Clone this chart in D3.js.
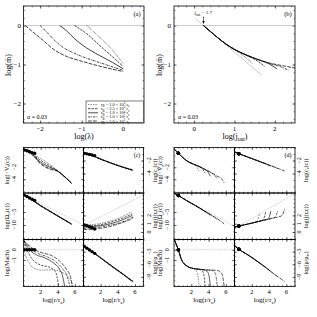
<!DOCTYPE html>
<html><head><meta charset="utf-8">
<script src="https://cdn.jsdelivr.net/npm/d3@7"></script>
<style>
body{margin:0;background:#fff}
svg{display:block;font-family:"Liberation Serif","DejaVu Serif",serif}
</style>
</head><body><div id="chart"></div>
<script>
// ---------- data ----------
var rbLabels = [["1.0","3"],["2.5","3"],["1.0","4"],["1.0","5"],["5.0","5"]];

// (a) log(lambda) vs log(m), one curve per r_B
var aCurves = [
  [[-0.88,0],[-0.57,-0.3],[-0.25,-0.64],[0,-0.98]],
  [[-1.17,0],[-0.88,-0.21],[-0.57,-0.51],[-0.25,-0.81],[0,-1.05]],
  [[-1.53,0],[-1.37,-0.13],[-1.17,-0.34],[-0.97,-0.51],[-0.57,-0.77],[-0.25,-0.95],[0,-1.11]],
  [[-2.0,0],[-1.84,-0.17],[-1.65,-0.38],[-1.45,-0.56],[-1.24,-0.68],[-1.05,-0.77],[-0.57,-0.95],[0,-1.15]],
  [[-2.36,0],[-2.17,-0.17],[-1.93,-0.38],[-1.69,-0.6],[-1.37,-0.79],[-1.05,-0.9],[-0.5,-1.06],[0,-1.18]]
];
// (b) log(j_out) vs log(m)
var bCurves = [
  [[0.23,0],[0.5,-0.24],[0.78,-0.47],[1.03,-0.64],[1.25,-0.8],[1.45,-0.98]],
  [[0.23,0],[0.5,-0.24],[0.78,-0.47],[1.03,-0.63],[1.28,-0.76],[1.55,-0.9],[1.75,-1.05]],
  [[0.23,0],[0.5,-0.24],[0.78,-0.47],[1.03,-0.63],[1.28,-0.75],[1.53,-0.86],[1.85,-0.98],[2.05,-1.11]],
  [[0.23,0],[0.5,-0.24],[0.78,-0.47],[1.03,-0.63],[1.28,-0.75],[1.53,-0.85],[1.86,-0.97],[2.15,-1.06],[2.35,-1.15]],
  [[0.23,0],[0.5,-0.24],[0.78,-0.47],[1.03,-0.63],[1.28,-0.75],[1.53,-0.85],[1.86,-0.96],[2.19,-1.03],[2.5,-1.09]]
];
var bGrey = [[0.04,0.17],[1.68,-1.28]];
var jOut = 1.7;

// (c) profiles vs log(r/r_s); second point of each curve is the sonic point
var cVr = [
  [[0,1.0],[0.1,0.88],[1,0.2],[2,-0.55],[3,-1.45],[3.9,-2.5],[4.8,-3.55],[5.62,-4.65]],
  [[0,1.0],[0.4,0.75],[1.1,0.0],[2,-0.85],[3,-1.7],[3.9,-2.52],[4.8,-3.56],[5.62,-4.66]],
  [[0,1.0],[0.7,0.6],[1.2,-0.2],[2,-1.15],[3,-1.95],[3.9,-2.55],[4.8,-3.58],[5.6,-4.67]],
  [[0,1.0],[1.0,0.45],[1.4,-0.45],[2.1,-1.45],[3,-2.15],[3.9,-2.58],[4.8,-3.6],[5.6,-4.68]],
  [[0,1.0],[1.3,0.33],[1.6,-0.75],[2.3,-1.75],[3.1,-2.35],[3.9,-2.62],[4.8,-3.62],[5.6,-4.7]]
];
var cCs = [
  [[0,-0.85],[0.1,-0.9],[1.5,-1.5],[2.5,-2.0],[3.5,-2.5],[4.5,-2.95],[5.8,-3.45]],
  [[0,-0.8],[0.4,-0.98],[1.5,-1.5],[2.5,-2.02],[3.5,-2.52],[4.5,-2.97],[5.8,-3.47]],
  [[0,-0.8],[0.7,-1.06],[1.5,-1.52],[2.5,-2.04],[3.5,-2.53],[4.5,-2.98],[5.75,-3.48]],
  [[0,-0.8],[1.0,-1.15],[1.6,-1.6],[2.5,-2.06],[3.5,-2.55],[4.5,-3.0],[5.7,-3.5]],
  [[0,-0.8],[1.3,-1.25],[1.8,-1.7],[2.6,-2.1],[3.5,-2.56],[4.5,-3.01],[5.7,-3.5]]
];
var cOm = [
  [[0,1.7],[0.1,1.5],[1.5,-1.4],[2.5,-3.4],[3.5,-5.4],[4.5,-7.4],[5.62,-9.6]],
  [[0,1.7],[0.4,0.95],[1.5,-1.5],[2.5,-3.5],[3.5,-5.5],[4.5,-7.45],[5.62,-9.65]],
  [[0,1.7],[0.7,0.4],[1.5,-1.6],[2.5,-3.6],[3.5,-5.55],[4.5,-7.5],[5.6,-9.7]],
  [[0,1.7],[1.0,-0.1],[1.6,-1.8],[2.5,-3.7],[3.5,-5.6],[4.5,-7.55],[5.6,-9.7]],
  [[0,1.7],[1.3,-0.6],[1.8,-2.1],[2.6,-3.85],[3.5,-5.7],[4.5,-7.6],[5.6,-9.75]]
];
var cJ = [
  [[0,0.82],[0.1,0.84],[1.5,0.95],[2.5,1.15],[3.5,1.45],[4.5,1.85],[5.6,2.4]],
  [[0,0.72],[0.4,0.75],[1.5,0.8],[2.5,1.0],[3.5,1.3],[4.5,1.65],[5.7,2.2]],
  [[0,0.6],[0.7,0.64],[1.5,0.7],[2.5,0.85],[3.5,1.1],[4.5,1.45],[5.7,2.0]],
  [[0,0.45],[1.0,0.5],[2,0.6],[3,0.8],[4,1.05],[5,1.4],[5.8,1.85]],
  [[0,0.3],[1.3,0.36],[2,0.45],[3,0.65],[4,0.95],[5,1.3],[5.8,1.7]]
];
var cMach = [
  [[0.02,0.9],[0.1,0],[0.6,-1.2],[1.2,-1.8],[2.2,-2.0],[3.2,-1.95],[4.2,-2.1],[5.0,-2.5],[5.5,-3.0],[5.8,-3.6]],
  [[0.02,0.9],[0.4,0],[1.0,-0.9],[2.0,-1.5],[3.0,-1.7],[3.6,-2.0],[3.9,-2.6],[4.1,-3.6]],
  [[0.02,0.9],[0.7,0],[1.5,-0.5],[2.5,-0.8],[3.5,-1.3],[4.2,-1.9],[4.6,-2.7],[4.8,-3.6]],
  [[0.02,0.9],[1.0,0],[1.8,-0.4],[2.8,-0.7],[3.8,-1.2],[4.6,-1.9],[5.1,-2.6],[5.4,-3.6]],
  [[0.02,0.9],[1.3,0],[2.2,-0.3],[3.2,-0.55],[4.2,-1.1],[5.0,-1.9],[5.5,-2.7],[5.7,-3.6]]
];
var cRho = [
  [[0,-1.6],[0.1,-1.75],[1.5,-3.6],[2.5,-5.1],[3.5,-6.6],[4.5,-8.1],[5.8,-10.1]],
  [[0,-1.6],[0.4,-2.2],[1.5,-3.7],[2.5,-5.2],[3.5,-6.7],[4.5,-8.15],[5.8,-10.1]],
  [[0,-1.6],[0.7,-2.6],[1.5,-3.75],[2.5,-5.25],[3.5,-6.75],[4.5,-8.2],[5.75,-10.1]],
  [[0,-1.6],[1.0,-3.0],[1.6,-3.9],[2.5,-5.3],[3.5,-6.8],[4.5,-8.25],[5.7,-10.1]],
  [[0,-1.6],[1.3,-3.4],[1.8,-4.2],[2.6,-5.45],[3.5,-6.85],[4.5,-8.3],[5.7,-10.15]]
];
var cOmKep = [[0.1,1.5],[7,-10.0]];
var cJKep = [[0.1,0.84],[7,4.46]];
var cMach1 = [[0.1,0],[7,0]];

// (d) same profiles, one curve per r_B
var dVr = [
  [[0.05,1.0],[0.5,0.35],[1,-0.35],[1.64,-1.07],[2.2,-1.45],[2.6,-1.85],[2.9,-2.7]],
  [[0.05,1.0],[0.5,0.35],[1,-0.35],[1.64,-1.07],[2.2,-1.45],[2.8,-1.8],[3.3,-2.3],[3.6,-3.0]],
  [[0.05,1.0],[0.5,0.35],[1,-0.35],[1.64,-1.07],[2.2,-1.45],[2.8,-1.8],[3.5,-2.3],[3.9,-2.75],[4.2,-3.5]],
  [[0.05,1.0],[0.5,0.35],[1,-0.35],[1.64,-1.07],[2.2,-1.45],[2.8,-1.8],[3.5,-2.3],[4.3,-2.9],[4.7,-3.3],[5.0,-3.9]],
  [[0.05,1.0],[0.5,0.35],[1,-0.35],[1.64,-1.07],[2.2,-1.45],[2.8,-1.8],[3.5,-2.3],[4.3,-2.9],[5,-3.5],[5.5,-3.9],[5.8,-4.6]]
];
var dCs = [
  [[0.05,-0.7],[0.5,-0.95],[1.5,-1.45],[2.5,-1.95],[2.9,-2.2]],
  [[0.05,-0.7],[0.5,-0.95],[1.5,-1.45],[2.5,-1.95],[3.6,-2.5]],
  [[0.05,-0.7],[0.5,-0.95],[1.5,-1.45],[2.5,-1.95],[3.5,-2.45],[4.2,-2.85]],
  [[0.05,-0.7],[0.5,-0.95],[1.5,-1.45],[2.5,-1.95],[3.5,-2.45],[4.5,-2.95],[5.0,-3.25]],
  [[0.05,-0.7],[0.5,-0.95],[1.5,-1.45],[2.5,-1.95],[3.5,-2.45],[4.5,-2.95],[5.8,-3.6]]
];
var dOm = [
  [[0.05,2.2],[0.5,1.35],[1.5,-0.7],[2.5,-2.6],[2.9,-3.6]],
  [[0.05,2.2],[0.5,1.35],[1.5,-0.7],[2.5,-2.6],[3.3,-4.2],[3.6,-5.1]],
  [[0.05,2.2],[0.5,1.35],[1.5,-0.7],[2.5,-2.6],[3.5,-4.6],[3.9,-5.5],[4.2,-6.3]],
  [[0.05,2.2],[0.5,1.35],[1.5,-0.7],[2.5,-2.6],[3.5,-4.6],[4.5,-6.6],[5.0,-7.9]],
  [[0.05,2.2],[0.5,1.35],[1.5,-0.7],[2.5,-2.6],[3.5,-4.6],[4.5,-6.6],[5.4,-8.5],[5.8,-9.6]]
];
var dJ = [
  [[0.05,0.6],[0.5,0.72],[1.5,0.95],[2.5,1.2],[2.75,1.6],[2.9,2.2]],
  [[0.05,0.6],[0.5,0.72],[1.5,0.95],[2.5,1.2],[3.2,1.38],[3.45,1.8],[3.6,2.4]],
  [[0.05,0.6],[0.5,0.72],[1.5,0.95],[2.5,1.2],[3.5,1.45],[3.8,1.52],[4.05,1.9],[4.2,2.5]],
  [[0.05,0.6],[0.5,0.72],[1.5,0.95],[2.5,1.2],[3.5,1.45],[4.6,1.72],[4.85,2.1],[5.0,2.6]],
  [[0.05,0.6],[0.5,0.72],[1.5,0.95],[2.5,1.2],[3.5,1.45],[4.5,1.7],[5.4,1.92],[5.65,2.3],[5.8,2.8]]
];
var dMach = [
  [[0.05,0.95],[0.5,0],[0.88,-1.0],[1.64,-1.67],[2.3,-1.85],[2.6,-2.1],[2.8,-2.7],[2.9,-3.6]],
  [[0.05,0.95],[0.5,0],[0.88,-1.0],[1.64,-1.67],[2.3,-1.85],[2.8,-1.9],[3.3,-2.1],[3.5,-2.7],[3.6,-3.6]],
  [[0.05,0.95],[0.5,0],[0.88,-1.0],[1.64,-1.67],[2.3,-1.85],[2.8,-1.9],[3.5,-1.97],[3.9,-2.2],[4.1,-2.8],[4.2,-3.6]],
  [[0.05,0.95],[0.5,0],[0.88,-1.0],[1.64,-1.67],[2.3,-1.85],[2.8,-1.9],[3.5,-1.97],[4.3,-2.0],[4.7,-2.2],[4.9,-2.8],[5.0,-3.6]],
  [[0.05,0.95],[0.5,0],[0.88,-1.0],[1.64,-1.67],[2.3,-1.85],[2.8,-1.9],[3.5,-1.97],[4.3,-2.0],[5.0,-2.02],[5.5,-2.3],[5.7,-2.9],[5.8,-3.6]]
];
var dRho = [
  [[0.05,-1.6],[0.5,-2.43],[1.5,-3.7],[2.5,-5.1],[2.9,-5.7]],
  [[0.05,-1.6],[0.5,-2.43],[1.5,-3.7],[2.5,-5.1],[3.6,-6.75]],
  [[0.05,-1.6],[0.5,-2.43],[1.5,-3.7],[2.5,-5.1],[3.5,-6.6],[4.2,-7.7]],
  [[0.05,-1.6],[0.5,-2.43],[1.5,-3.7],[2.5,-5.1],[3.5,-6.6],[4.5,-8.2],[5.0,-8.95]],
  [[0.05,-1.6],[0.5,-2.43],[1.5,-3.7],[2.5,-5.1],[3.5,-6.6],[4.5,-8.2],[5.8,-10.1]]
];
var dOmKep = [[0.5,1.35],[7,-10.6]];
var dJKep = [[0.5,0.72],[7,4.66]];
var dMach1 = [[0.5,0],[7,0]];

var mTicks = [-2,-1,0], lamTicks = [-2,-1,0], jTicks = [0,1,2];
var rTicks = [2,4,6];
var vrTicks = [-4,-2], csTicks = [-4,-2], omTicks = [-10,-5], jrTicks = [0,1,2],
    machTicks = [-1,0], rhoTicks = [-9,-6,-3];

// ---------- drawing ----------
var dashes = ["0.7,1", "2.4,1.1", null, "2.4,0.9,0.7,0.9", "3.8,1.2"];
var fmt = function(v){ return v < 0 ? "\u2212" + Math.abs(v) : "" + v; };

var svg = d3.select("#chart").append("svg").attr("width",317).attr("height",317);
svg.append("rect").attr("width",317).attr("height",317).attr("fill","#fff");
var clipN = 0;

function rich(t, parts, fs) {
  var shift = 0;
  parts.forEach(function(p){
    var target = p[1]=="sub" ? fs*0.3 : p[1]=="sup" ? -fs*0.4 : 0;
    var s = t.append("tspan").text(p[0]).attr("dy", target - shift);
    shift = target;
    if (p[1]) s.attr("font-size", fs*0.7);
  });
  return t;
}

function ticks(g, x, y, xs, ys, len) {
  var xr = x.range(), yr = y.range();
  [[d3.axisBottom(x).tickValues(xs), "translate(0,"+yr[0]+")"],
   [d3.axisTop(x).tickValues(xs), "translate(0,"+yr[1]+")"],
   [d3.axisLeft(y).tickValues(ys), "translate("+xr[0]+",0)"],
   [d3.axisRight(y).tickValues(ys), "translate("+xr[1]+",0)"]].forEach(function(a){
    var ax = g.append("g").attr("transform", a[1]).call(a[0].tickSize(-len).tickFormat(""));
    ax.select(".domain").remove();
    ax.selectAll("line").attr("stroke","#000").attr("stroke-width",0.5);
  });
}
function steps(lo, hi, st) {
  return d3.range(Math.ceil(lo/st - 1e-6)*st, hi + 1e-6, st);
}

function frame(x0,x1,y0,y1,xd,yd,xMaj,xMin,yMaj,yMin) {
  var g = svg.append("g");
  var x = d3.scaleLinear().domain(xd).range([x0,x1]);
  var y = d3.scaleLinear().domain(yd).range([y1,y0]);
  var id = "clip" + (clipN++);
  svg.append("clipPath").attr("id",id).append("rect")
    .attr("x",x0).attr("y",y0).attr("width",x1-x0).attr("height",y1-y0);
  ticks(g, x, y, steps(xd[0],xd[1],xMin), steps(yd[0],yd[1],yMin), 1.3);
  ticks(g, x, y, xMaj, yMaj, 2.6);
  var plot = g.append("g").attr("clip-path","url(#"+id+")");
  g.append("rect").attr("x",x0).attr("y",y0).attr("width",x1-x0).attr("height",y1-y0)
    .attr("fill","none").attr("stroke","#000").attr("stroke-width",0.8);
  return {g:g, plot:plot, x:x, y:y};
}

function curves(p, sets, width, dots) {
  var line = d3.line().x(function(d){return p.x(d[0]);}).y(function(d){return p.y(d[1]);})
    .curve(d3.curveMonotoneX);
  sets.forEach(function(c, i){
    p.plot.append("path").attr("d", line(c)).attr("fill","none")
      .attr("stroke","#000").attr("stroke-width",width)
      .attr("stroke-dasharray", dashes[i]);
  });
  if (dots) {
    p.plot.selectAll(null).data(sets).enter().append("circle")
      .attr("cx", function(c){return p.x(c[1][0]);})
      .attr("cy", function(c){return p.y(c[1][1]);})
      .attr("r", 1.7).attr("fill","#000");
  }
}
function guide(p, pts, dotted) {
  p.plot.append("path").attr("d", d3.line().x(function(d){return p.x(d[0]);}).y(function(d){return p.y(d[1]);})(pts))
    .attr("fill","none").attr("stroke", "#aaa").attr("stroke-width", dotted ? 0.7 : 0.6)
    .attr("stroke-dasharray", dotted ? "0.8,0.9" : null);
}
function txt(x, y, parts, fs, anchor, rot) {
  var t = svg.append("text").attr("font-size", fs).attr("text-anchor", anchor || "middle");
  if (rot) t.attr("transform","translate("+x+","+y+") rotate(-90)");
  else t.attr("x", x).attr("y", y);
  return rich(t, typeof parts == "string" ? [[parts,""]] : parts, fs);
}

// ---- panel (a)
var pa = frame(23.5,144,6,123,[-2.4,0.5],[-2.5,0.5],lamTicks,0.2,mTicks,0.2);
guide(pa, [[-2.4,0],[0.5,0]], false);
curves(pa, aCurves, 0.75, false);
lamTicks.forEach(function(v){ txt(pa.x(v), 131, fmt(v), 7); });
mTicks.forEach(function(v){ txt(21, pa.y(v)+2.4, fmt(v), 7, "end"); });
txt(84, 139, "log(\u03bb)", 8);
txt(11, 65, [["log(\u1e41)",""]], 8, "middle", true);
txt(137, 16, "(a)", 6.5);
txt(27, 119, "\u03b1 = 0.03", 6, "start");

// legend
var lg = svg.append("g");
lg.append("rect").attr("x",86).attr("y",101).attr("width",57.5).attr("height",21.5)
  .attr("fill","#fff").attr("stroke","#000").attr("stroke-width",0.5);
rbLabels.forEach(function(l, i){
  var yy = 104.6 + i*4.1;
  lg.append("line").attr("x1",88).attr("x2",98).attr("y1",yy).attr("y2",yy)
    .attr("stroke","#000").attr("stroke-width",0.7).attr("stroke-dasharray",dashes[i]);
  rich(lg.append("text").attr("x",101).attr("y",yy+1.5).attr("font-size",4.4),
    [["r",""],["B","sub"],[" = "+l[0]+" \u00d7 10",""],[l[1],"sup"],[" r",""],["s","sub"]], 4.4);
});

// ---- panel (b)
var pb = frame(174,295,6,123,[-0.5,2.5],[-2.5,0.5],jTicks,0.2,mTicks,0.2);
guide(pb, [[-0.5,0],[2.5,0]], false);
guide(pb, bGrey, false);
curves(pb, bCurves, 0.75, false);
jTicks.forEach(function(v){ txt(pb.x(v), 131, fmt(v), 7); });
mTicks.forEach(function(v){ txt(171, pb.y(v)+2.4, fmt(v), 7, "end"); });
txt(235, 139, [["log(j",""],["out","sub"],[")",""]], 8);
txt(162, 65, [["log(\u1e41)",""]], 8, "middle", true);
txt(288, 16, "(b)", 6.5);
txt(178, 119, "\u03b1 = 0.03", 6, "start");
var ax = pb.x(Math.log10(jOut));
txt(ax - 9, 14, [["j",""],["out","sub"],[" = 1.7",""]], 5, "start");
svg.append("line").attr("x1",ax).attr("x2",ax).attr("y1",16.5).attr("y2",21.5)
  .attr("stroke","#000").attr("stroke-width",0.6);
svg.append("path").attr("d","M"+(ax-1.2)+",21 L"+(ax+1.2)+",21 L"+ax+",24 Z").attr("fill","#000");

// ---- panels (c) and (d)
var rowsY = [147.5, 193, 239.5, 286.5];
var rows = [
  {dom:[-6.3,1.3], tk:vrTicks, mn:1, lab:[["log(\u2212V",""],["r","sub"],["(c))",""]]},
  {dom:[-7,0], tk:csTicks, mn:1, lab:[["log(c",""],["s","sub"],["(c))",""]]},
  {dom:[-15.6,2.3], tk:omTicks, mn:2.5, lab:[["log(\u03a9",""],["\u03c6","sub"],["(c))",""]]},
  {dom:[-0.9,4.7], tk:jrTicks, mn:0.5, lab:[["log(j(r,c))",""]]},
  {dom:[-3.6,1.0], tk:machTicks, mn:0.5, lab:[["log(Mach)",""]]},
  {dom:[-11.3,-0.1], tk:rhoTicks, mn:1, lab:[["log(\u03c1/\u03c1",""],["\u221e","sub"],[")",""]]}
];
var figs = [
  {cols:[23.5,83.5,143.5], sets:[cVr,cCs,cOm,cJ,cMach,cRho], guides:[null,null,cOmKep,cJKep,cMach1,null],
   tl:15.5, yl:8.5, tr:151, yr:157, tag:"(c)", tagX:137},
  {cols:[174,234.5,295], sets:[dVr,dCs,dOm,dJ,dMach,dRho], guides:[null,null,dOmKep,dJKep,dMach1,null],
   tl:168.5, yl:162, tr:301, yr:307.5, tag:"(d)", tagX:288}
];
figs.forEach(function(f){
  rows.forEach(function(r, k){
    var row = Math.floor(k/2), col = k%2;
    var p = frame(f.cols[col], f.cols[col+1], rowsY[row], rowsY[row+1], [0,7], r.dom,
      rTicks, 0.5, r.tk, r.mn);
    if (f.guides[k]) guide(p, f.guides[k], true);
    curves(p, f.sets[k], 0.65, true);
    var tx = col ? f.tr : f.tl, lx = col ? f.yr : f.yl;
    r.tk.forEach(function(v){ txt(tx, p.y(v), fmt(v), 6, "middle", true); });
    txt(lx, (rowsY[row]+rowsY[row+1])/2, r.lab, 6.2, "middle", true);
    if (row == 2) {
      rTicks.forEach(function(v){ txt(p.x(v), 294, fmt(v), 6.5); });
      txt((f.cols[col]+f.cols[col+1])/2, 302, [["log(r/r",""],["s","sub"],[")",""]], 7);
    }
  });
  txt(f.tagX, 157, f.tag, 6);
});
</script>
</body></html>
